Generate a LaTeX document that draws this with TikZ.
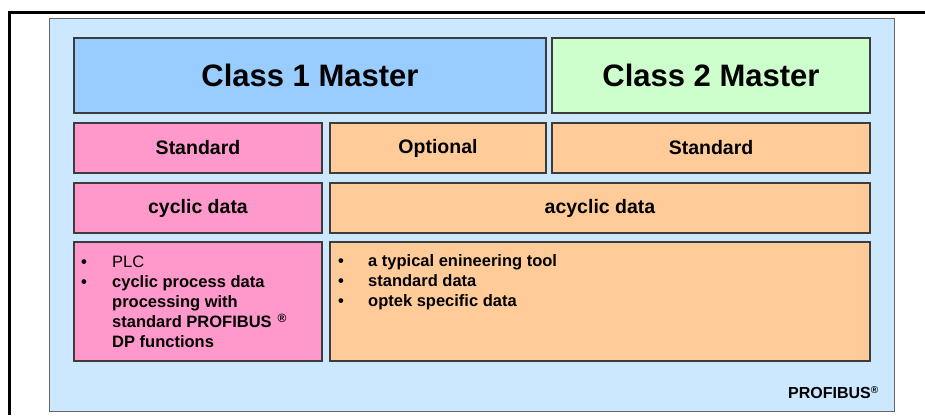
\documentclass[tikz,border=0pt]{standalone}
\usepackage{fontspec}
\setmainfont{Liberation Sans}
\usepackage{array}
\definecolor{bgblue}{RGB}{204,232,255}
\definecolor{mblue}{RGB}{153,204,255}
\definecolor{mgreen}{RGB}{204,255,204}
\definecolor{mpink}{RGB}{255,153,204}
\definecolor{morange}{RGB}{255,204,153}
\definecolor{edge}{RGB}{60,60,60}
\tikzset{
  cell/.style={draw=edge, line width=1.8pt, anchor=north west, inner sep=0pt, outer sep=0pt},
  bigtext/.style={font=\fontsize{31}{36}\selectfont\bfseries},
  midtext/.style={font=\fontsize{19.5}{24}\selectfont\bfseries},
  listtext/.style={font=\fontsize{16.5}{20}\selectfont\bfseries, anchor=north west, inner sep=0pt, align=left},
}
\begin{document}
\begin{tikzpicture}[x=1pt,y=-1pt]
\useasboundingbox (0,0) rectangle (925,415);
% frame
\draw[line width=3pt] (9,415) -- (9,12) -- (925,12);
% outer panel
\node[draw=gray!80!black, line width=1.4pt, fill=bgblue, anchor=north west, inner sep=0pt,
      minimum width=845, minimum height=393] (panel) at (49,18) {};
% row 1
\node[cell, fill=mblue, minimum width=472, minimum height=75, bigtext] (c1) at (74,38) {Class 1 Master};
\node[cell, fill=mgreen, minimum width=318, minimum height=75, bigtext] (c2) at (552,38) {Class 2 Master};
% row 2
\node[cell, fill=mpink, minimum width=248, minimum height=50, midtext] (std1) at (74,123) {Standard};
\node[cell, fill=morange, minimum width=216, minimum height=50, midtext] (opt) at (330,123) {Optional};
\node[cell, fill=morange, minimum width=318, minimum height=50, midtext] (std2) at (552,123) {Standard};
% row 3
\node[cell, fill=mpink, minimum width=248, minimum height=50, midtext] (cyc) at (74,183) {cyclic data};
\node[cell, fill=morange, minimum width=540, minimum height=50, midtext] (acyc) at (330,183) {acyclic data};
% row 4
\node[cell, fill=mpink, minimum width=248, minimum height=119] (plcbox) at (74,242) {};
\node[cell, fill=morange, minimum width=540, minimum height=119] (toolbox) at (330,242) {};
\node[listtext] (plclist) at (81,253) {%
  \begin{tabular}{@{}p{31pt}@{}l@{}}
  • & \mdseries PLC\\
  • & cyclic process data\\
    & processing with\\
    & standard PROFIBUS\hspace{6pt}\raisebox{4.5pt}{\fontsize{12}{13}\selectfont ®}\\
    & DP functions
  \end{tabular}};
\node[listtext] (toollist) at (338,252) {%
  \begin{tabular}{@{}p{30pt}@{}l@{}}
  • & a typical enineering tool\\
  • & standard data\\
  • & optek specific data
  \end{tabular}};
% logo text
\node[font=\fontsize{16}{18}\selectfont\bfseries, anchor=base west, inner sep=0pt] (logo) at (788,398)
  {PROFIBUS\raisebox{5pt}{\fontsize{10}{11}\selectfont ®}};
\end{tikzpicture}
\end{document}
